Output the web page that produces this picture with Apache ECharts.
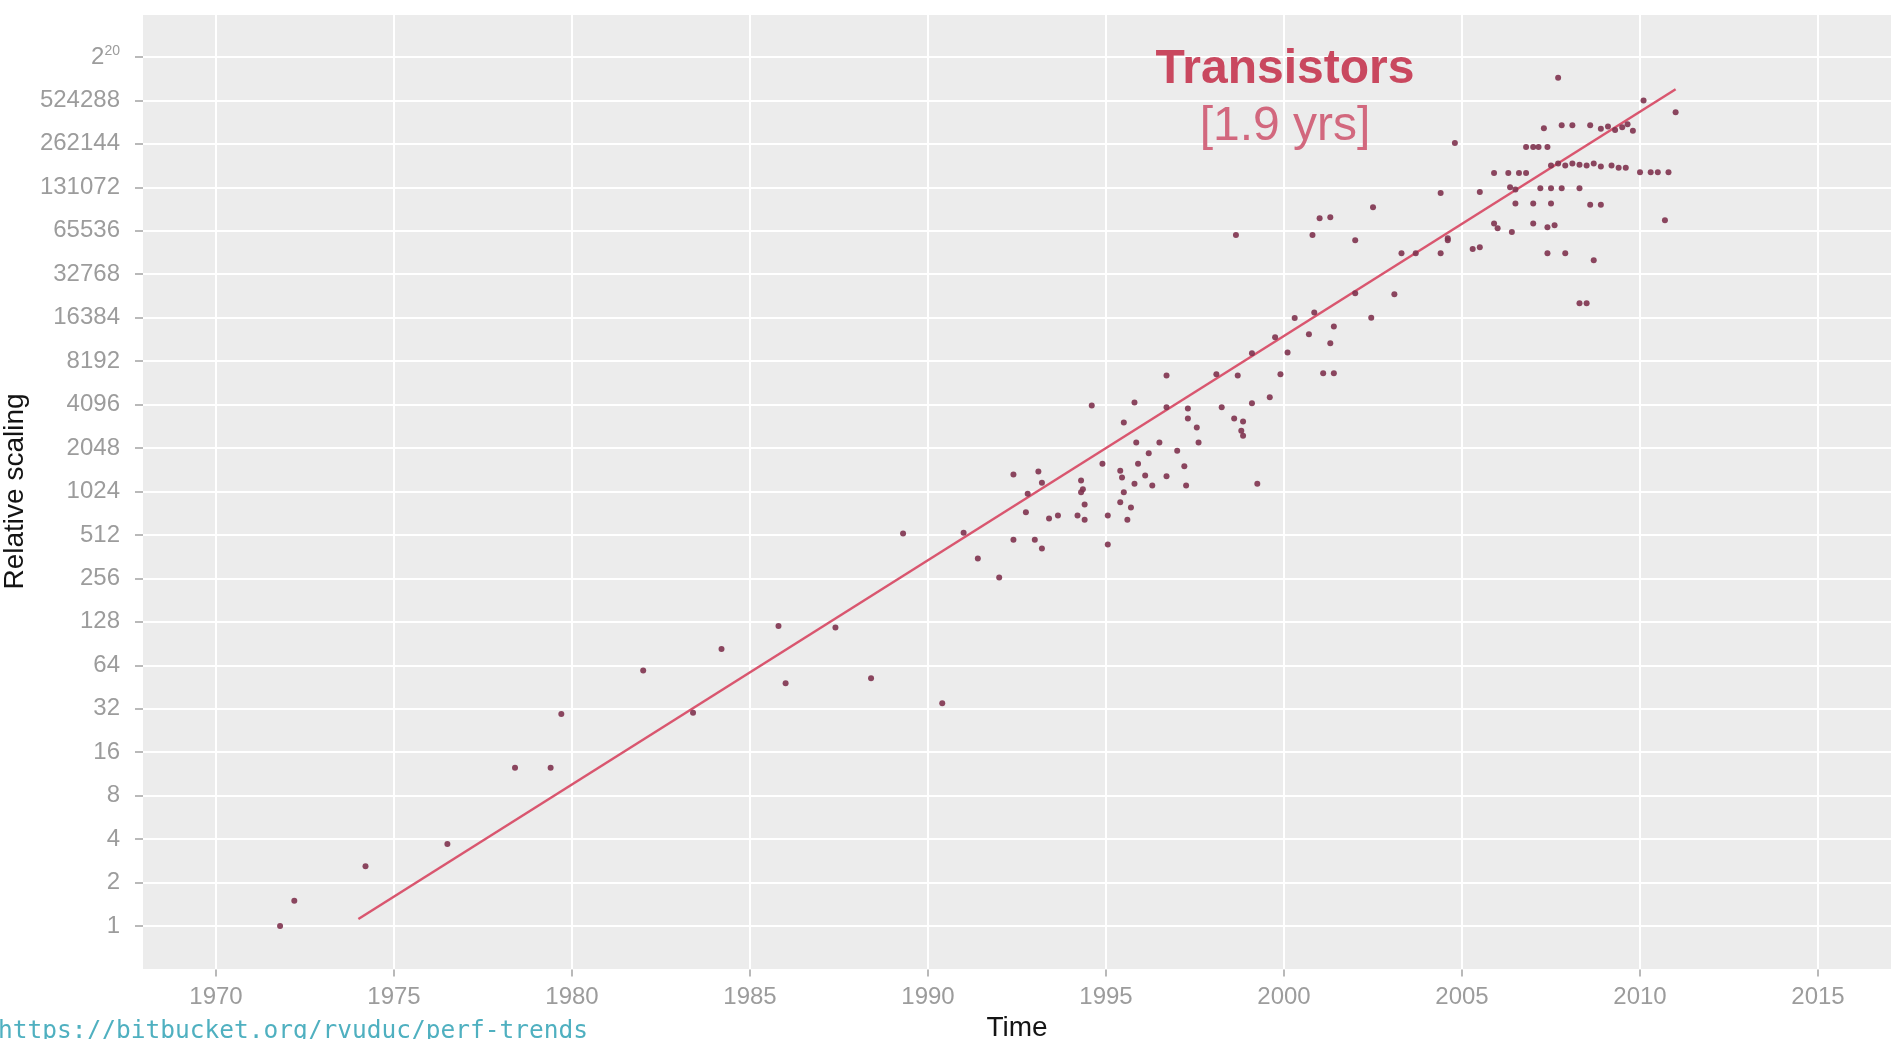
<!DOCTYPE html>
<html>
<head>
<meta charset="utf-8">
<title>Transistors scaling</title>
<script src="https://cdn.jsdelivr.net/npm/echarts@6/dist/echarts.min.js"></script>
<style>
  html, body { margin: 0; padding: 0; background: #ffffff; }
  #chart { width: 1895px; height: 1039px; }
</style>
</head>
<body>
<div id="chart"></div>
<script>
// Tick positions for both axes
const yearTicks = [1970, 1975, 1980, 1985, 1990, 1995, 2000, 2005, 2010, 2015];
const scalingTicks = [1, 2, 4, 8, 16, 32, 64, 128, 256, 512, 1024, 2048, 4096, 8192,
  16384, 32768, 65536, 131072, 262144, 524288, 1048576];

// Processor release year and relative transistor count
const chipYears = [
  1971.8, 1972.2, 1974.2, 1976.5, 1978.4, 1979.4, 1979.7, 1982.0, 1983.4, 1984.2,
  1985.8, 1986.0, 1987.4, 1988.4, 1990.4, 1989.3, 1991.0, 1991.4, 1992.0, 1992.4,
  1993.0, 1993.2, 1992.4, 1993.1, 1993.2, 1992.8, 1992.75, 1993.4, 1993.65, 1994.2,
  1994.4, 1994.3, 1994.3, 1994.35, 1994.4, 1994.9, 1995.05, 1995.05, 1994.6, 1995.5,
  1995.8, 1995.4, 1995.45, 1995.5, 1995.4, 1995.7, 1995.6, 1995.8, 1995.85, 1995.9,
  1996.1, 1996.3, 1996.5, 1996.2, 1996.7, 1997.0, 1997.2, 1997.25, 1996.7, 1996.7,
  1997.3, 1997.3, 1997.55, 1997.6, 1998.1, 1998.25, 1998.7, 1998.6, 1998.85, 1998.8,
  1998.85, 1999.1, 1999.25, 1999.6, 1999.9, 2001.1, 2001.4, 2000.1, 1998.65, 2000.8,
  2001.0, 2001.3, 2002.0, 2002.5, 2004.4, 2003.3, 2003.7, 2004.4, 2003.1, 2002.45,
  2002.0, 2001.4, 2001.3, 2000.85, 2000.7, 2000.3, 1999.75, 1999.1, 2004.6, 2004.8,
  2005.5, 2005.5, 2005.3, 2005.9, 2006.0, 2004.6, 2007.7, 2010.1, 2011.0, 2007.3,
  2007.8, 2008.1, 2008.6, 2008.9, 2009.1, 2009.3, 2009.5, 2009.8, 2009.65, 2006.8,
  2007.0, 2007.15, 2007.4, 2005.9, 2006.3, 2006.6, 2006.8, 2007.5, 2007.7, 2007.9,
  2008.1, 2008.3, 2008.5, 2008.7, 2008.9, 2009.2, 2009.4, 2009.6, 2010.0, 2010.3,
  2010.5, 2010.8, 2006.35, 2006.5, 2007.2, 2007.5, 2007.8, 2008.3, 2006.5, 2007.0,
  2007.5, 2008.6, 2008.9, 2006.4, 2007.0, 2007.4, 2007.6, 2010.7, 2007.4, 2007.9,
  2008.7, 2008.3, 2008.5
];
const chipScaling = [
  1, 1.5, 2.6, 3.7, 12.5, 12.5, 29.4, 59, 30, 83,
  120, 48, 117, 52, 35, 523, 530, 352, 260, 474,
  474, 413, 1341, 1408, 1176, 989, 734, 666, 699, 699,
  653, 1218, 1010, 1060, 832, 1595, 699, 440, 4040, 3083,
  4240, 1428, 1278, 1010, 861, 792, 653, 1160, 2240, 1595,
  1323, 1128, 2240, 1884, 1305, 1965, 1531, 1128, 6516, 3929,
  3281, 3848, 2837, 2240, 6656, 3929, 6516, 3281, 3126, 2703,
  2487, 4181, 1160, 4608, 6656, 6746, 6746, 9411, 61150, 61150,
  80150, 81265, 56270, 95290, 119800, 45710, 45710, 45710, 23820, 16384,
  24150, 14260, 10890, 17800, 12590, 16270, 11990, 9281, 56270, 265900,
  121400, 50360, 48980, 73700, 68350, 58250, 751800, 524288, 434800, 336300,
  353000, 353000, 353000, 334000, 345900, 327200, 341100, 322700, 357900, 249800,
  249800, 249800, 249800, 164700, 164700, 164700, 164700, 185400, 191900, 185400,
  191900, 188000, 185400, 191900, 182900, 185400, 179000, 179000, 167000, 167000,
  167000, 167000, 131072, 126600, 129300, 129300, 129300, 129300, 101400, 101400,
  101400, 99300, 99300, 64200, 73700, 69250, 71700, 77400, 45710, 45710,
  40900, 20600, 20600
];

// Fitted exponential trend (doubling every ~1.9 years)
const trendYears = [1974.0, 2011.0];
const trendScaling = [1.12, 627000];

const chipPoints = chipYears.map((y, i) => [y, chipScaling[i]]);
const trendPoints = trendYears.map((y, i) => [y, trendScaling[i]]);

const tickColor = '#a3a3a3';
const labelColor = '#9c9c9c';
const gridLine = { show: true, lineStyle: { color: '#ffffff', width: 2 } };

const chart = echarts.init(document.getElementById('chart'), null, { renderer: 'canvas' });

chart.setOption({
  backgroundColor: '#ffffff',
  animation: false,
  textStyle: { fontFamily: 'Liberation Sans, Arial, sans-serif' },
  grid: {
    left: 143, right: 4, top: 13.5, bottom: 69.5,
    outerBoundsMode: 'none',
    containLabel: false,
    show: true, backgroundColor: '#ececec', borderWidth: 0
  },
  xAxis: {
    type: 'value',
    min: 1967.95,
    max: 2017.05,
    name: 'Time',
    nameLocation: 'middle',
    nameGap: 37,
    nameTextStyle: { color: '#141414', fontSize: 28 },
    axisLine: { show: false },
    axisTick: { show: true, length: 7, customValues: yearTicks, lineStyle: { color: tickColor, width: 1.5 } },
    axisLabel: {
      customValues: yearTicks,
      color: labelColor, fontSize: 24, margin: 16,
      formatter: v => String(v)
    },
    splitLine: gridLine
  },
  yAxis: {
    type: 'log',
    logBase: 2,
    min: 0.5,
    max: 2097152,
    interval: 1,
    name: 'Relative scaling',
    nameLocation: 'middle',
    nameRotate: 90,
    nameGap: 104,
    nameTextStyle: { color: '#141414', fontSize: 28 },
    axisLine: { show: false },
    axisTick: { show: true, length: 8, lineStyle: { color: tickColor, width: 1.5 } },
    axisLabel: {
      showMinLabel: false,
      showMaxLabel: false,
      color: labelColor, fontSize: 24, margin: 23,
      formatter: v => {
        if (scalingTicks.indexOf(v) < 0) return '';
        if (v === 1048576) return '{base|2}{sup|20}';
        return String(v);
      },
      rich: {
        base: { color: labelColor, fontSize: 24 },
        sup: { color: labelColor, fontSize: 14, verticalAlign: 'top', padding: [0, 0, 12, 0] }
      }
    },
    splitLine: gridLine
  },
  series: [
    {
      name: 'trend',
      type: 'line',
      data: trendPoints,
      showSymbol: false,
      z: 2,
      lineStyle: { color: '#d9566f', width: 2.5 }
    },
    {
      name: 'Transistors',
      type: 'scatter',
      data: chipPoints,
      symbol: 'circle',
      symbolSize: 6,
      z: 3,
      itemStyle: { color: '#80334f', opacity: 0.9 }
    }
  ],
  graphic: [
    {
      type: 'text',
      z: 100,
      x: 1285, y: 70,
      style: {
        text: 'Transistors',
        fill: '#c9485f',
        align: 'center',
        verticalAlign: 'middle',
        font: 'bold 48px "Liberation Sans", Arial, sans-serif'
      }
    },
    {
      type: 'text',
      z: 100,
      x: 1285, y: 127,
      style: {
        text: '[1.9 yrs]',
        fill: '#d2687e',
        align: 'center',
        verticalAlign: 'middle',
        font: '48px "Liberation Sans", Arial, sans-serif'
      }
    },
    {
      type: 'text',
      z: 100,
      left: -2, top: 1019,
      style: {
        text: 'https://bitbucket.org/rvuduc/perf-trends',
        fill: '#4fb0c0',
        font: '24.5px "DejaVu Sans Mono", monospace'
      }
    }
  ]
});
</script>
</body>
</html>
